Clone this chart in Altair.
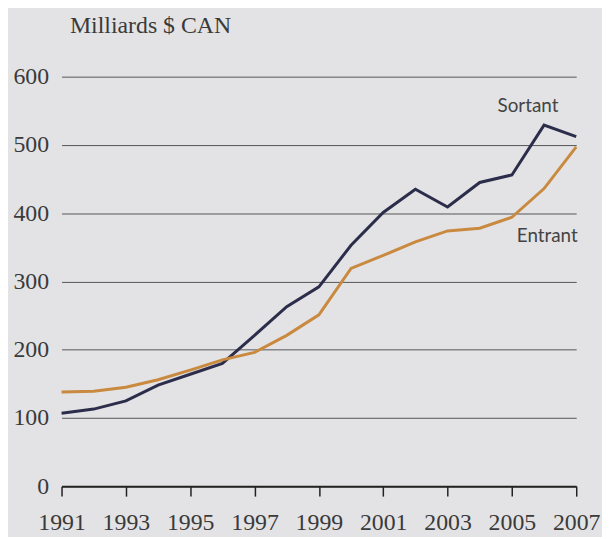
import altair as alt
import pandas as pd

years = list(range(1991, 2008))
sortant = [107, 113, 125, 148, 164, 180, 221, 263, 292, 353, 401, 435, 409, 445, 456, 529, 512]
entrant = [138, 139, 145, 156, 170, 185, 196, 221, 251, 319, 338, 358, 374, 378, 394, 436, 497]
series_names = ["Sortant", "Entrant"]
series_colors = ["#2b2d4b", "#c98a40"]
label_years = [2005.5, 2006.1]
label_values = [557, 366]

rows = []
for y, s, e in zip(years, sortant, entrant):
    rows.append({"annee": y, "valeur": s, "serie": "Sortant"})
    rows.append({"annee": y, "valeur": e, "serie": "Entrant"})
df = pd.DataFrame(rows)
lab = pd.DataFrame({"annee": label_years, "valeur": label_values, "serie": series_names})

xscale = alt.Scale(domain=[1991, 2007], nice=False, zero=False)
yscale = alt.Scale(domain=[0, 600], nice=False)

lines = alt.Chart(df).mark_line(strokeWidth=3).encode(
    x=alt.X("annee:Q", scale=xscale, axis=alt.Axis(
        values=years, format="d", title=None, grid=False,
        labelExpr="datum.value % 2 == 1 ? datum.label : ''",
        labelFont="Liberation Serif", labelFontSize=24, labelColor="#3a3a3a",
        labelPadding=15, tickSize=10, tickColor="#222", tickWidth=1.5,
        domainColor="#222", domainWidth=2, labelFlush=False, labelOverlap=False)),
    y=alt.Y("valeur:Q", scale=yscale, axis=alt.Axis(
        values=[0, 100, 200, 300, 400, 500, 600], grid=True, gridColor="#555",
        gridWidth=1, domain=False, ticks=False, labelPadding=13,
        labelFont="Liberation Serif", labelFontSize=24, labelColor="#3a3a3a",
        title="Milliards $ CAN", titleAngle=0, titleAlign="left", titleBaseline="alphabetic",
        titleX=8, titleY=-45, titleFont="Liberation Serif", titleFontSize=24,
        titleFontWeight="normal", titleColor="#3a3a3a")),
    color=alt.Color("serie:N", scale=alt.Scale(domain=series_names, range=series_colors), legend=None),
)

texts = alt.Chart(lab).mark_text(font="Lato", fontSize=19, color="#444").encode(
    x=alt.X("annee:Q", scale=xscale),
    y=alt.Y("valeur:Q", scale=yscale),
    text="serie:N",
)

chart = alt.layer(lines, texts).properties(
    width=519, height=413,
    background="#e3e3e5",
    padding={"left": 54, "top": 67, "right": 26, "bottom": 49},
    autosize=alt.AutoSizeParams(type="none"),
).configure_view(stroke=None)

chart.save("out.html", embed_options={"renderer": "svg", "actions": False})
